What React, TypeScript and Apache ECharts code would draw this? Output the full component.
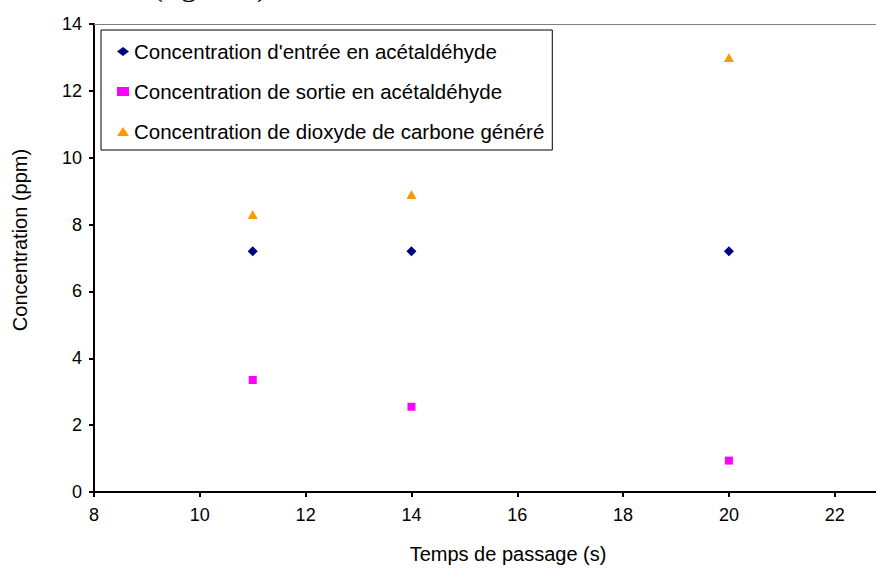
import React, { useEffect, useRef } from "react";
import * as echarts from "echarts";

const xValues = [11, 14, 20];
const entreeValues = [7.2, 7.2, 7.2];
const sortieValues = [3.35, 2.55, 0.94];
const co2Values = [8.3, 8.9, 13.0];
const seriesNames = [
  "Concentration d'entrée en acétaldéhyde",
  "Concentration de sortie en acétaldéhyde",
  "Concentration de dioxyde de carbone généré",
];
const xTickValues = [8, 10, 12, 14, 16, 18, 20, 22];
const xAxisTitle = "Temps de passage (s)";
const yAxisTitle = "Concentration (ppm)";
const pageTitle = "(figure 5)";

const FONT = '"Liberation Sans", Arial, sans-serif';

export default function App() {
  const ref = useRef<HTMLDivElement>(null);
  useEffect(() => {
    if (!ref.current) return;
    const chart = echarts.init(ref.current, undefined, { renderer: "svg" });
    const toPairs = (vals: number[]) => xValues.map((x, i) => [x, vals[i]]);
    chart.setOption({
      animation: false,
      textStyle: { fontFamily: FONT, color: "#000" },
      grid: {
        left: 94,
        top: 24,
        bottom: 75,
        right: 0,
        show: false,
      },
      legend: {
        orient: "vertical",
        left: 101,
        top: 30,
        padding: [11, 8, 8, 16],
        itemGap: 19,
        itemWidth: 12,
        itemHeight: 9,
        borderColor: "#000",
        borderWidth: 1,
        backgroundColor: "#fff",
        textStyle: { fontFamily: FONT, fontSize: 20.5, color: "#000" },
        data: seriesNames,
      },
      xAxis: [
        {
          type: "value",
          min: 8,
          max: 22.78,
          name: xAxisTitle,
          nameLocation: "middle",
          nameGap: 52,
          nameTextStyle: { fontFamily: FONT, fontSize: 20, color: "#000", padding: [0, 0, 0, 46] },
          axisLine: { show: true, lineStyle: { color: "#000", width: 2 } },
          axisTick: {
            show: true,
            inside: false,
            length: 5,
            customValues: xTickValues,
            lineStyle: { color: "#000", width: 2 },
          },
          axisLabel: {
            fontFamily: FONT,
            fontSize: 18,
            color: "#000",
            margin: 14,
            customValues: xTickValues,
          },
          splitLine: { show: false },
        },
        {
          type: "value",
          position: "top",
          min: 8,
          max: 22.78,
          axisLine: { show: true, lineStyle: { color: "#808080", width: 1 } },
          axisTick: { show: false },
          axisLabel: { show: false },
          splitLine: { show: false },
        },
      ],
      yAxis: {
        type: "value",
        min: 0,
        max: 14,
        interval: 2,
        name: yAxisTitle,
        nameLocation: "middle",
        nameGap: 64,
        nameRotate: 90,
        nameTextStyle: { fontFamily: FONT, fontSize: 20, color: "#000", padding: [0, 0, 0, 36] },
        axisLine: { show: true, lineStyle: { color: "#000", width: 2 } },
        axisTick: { show: true, inside: false, length: 5, lineStyle: { color: "#000", width: 2 } },
        axisLabel: { fontFamily: FONT, fontSize: 18, color: "#000", margin: 12 },
        splitLine: { show: false },
      },
      graphic: [
        {
          type: "text",
          x: 210,
          y: -15,
          style: {
            text: pageTitle,
            fontFamily: '"Liberation Serif", "Times New Roman", serif',
            fontSize: 30,
            fill: "#000",
            align: "center",
            verticalAlign: "middle",
          },
        },
      ],
      series: [
        {
          name: seriesNames[0],
          type: "scatter",
          symbol: "diamond",
          symbolSize: [10, 10],
          itemStyle: { color: "#000080", opacity: 1 },
          data: toPairs(entreeValues),
        },
        {
          name: seriesNames[1],
          type: "scatter",
          symbol: "rect",
          symbolSize: [8, 8],
          itemStyle: { color: "#FF00FF", opacity: 1 },
          data: toPairs(sortieValues),
        },
        {
          name: seriesNames[2],
          type: "scatter",
          symbol: "triangle",
          symbolSize: [10, 9],
          itemStyle: { color: "#FF9900", opacity: 1 },
          data: toPairs(co2Values),
        },
      ],
    });
    return () => chart.dispose();
  }, []);
  return (
    <div
      ref={ref}
      style={{ position: "fixed", left: 0, top: 0, width: 876, height: 569, background: "#fff" }}
    />
  );
}
